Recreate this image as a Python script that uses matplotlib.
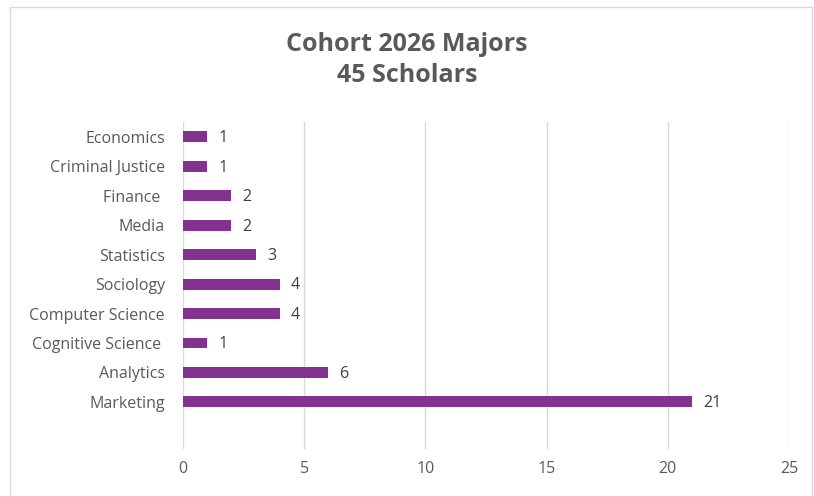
import matplotlib.pyplot as plt
from matplotlib.patches import Rectangle

majors = ['Marketing', 'Analytics', 'Cognitive Science ', 'Computer Science', 'Sociology',
          'Statistics', 'Media', 'Finance ', 'Criminal Justice', 'Economics']
counts = [21, 6, 1, 4, 4, 3, 2, 2, 1, 1]

bar_color = '#833290'
text_color = '#595959'

plt.rcParams['font.family'] = ['Open Sans', 'DejaVu Sans']

fig = plt.figure(figsize=(8.14, 4.96), dpi=100)
ax = fig.add_axes([0.2248, 0.0948, 0.7445, 0.659])

ypos = list(range(len(majors)))
ax.barh(ypos, counts, height=0.37, color=bar_color, zorder=3)
for y, v in zip(ypos, counts):
    ax.annotate(str(v), (v, y), xytext=(8, -1), textcoords='offset points',
                va='center', ha='left', fontsize=11.5, color='#404040')

ax.set_xlim(0, 25)
ax.set_ylim(-1.6, 9.5)
ax.set_xticks([0, 5, 10, 15, 20, 25])
ax.set_yticks(ypos)
ax.set_yticklabels(majors)
ax.grid(axis='x', color='#D9D9D9', linewidth=1, zorder=0)
for s in ax.spines.values():
    s.set_visible(False)
ax.tick_params(axis='both', length=0, labelsize=11.5, labelcolor=text_color)
ax.tick_params(axis='y', pad=13)
ax.tick_params(axis='x', pad=9)

fig.text(0.5, 0.879, 'Cohort 2026 Majors\n45 Scholars', ha='center', va='center',
         fontsize=18, fontweight='bold', color=text_color, linespacing=1.35)

fig.patches.append(Rectangle((0.012, -0.01), 0.985, 0.995, transform=fig.transFigure,
                             fill=False, edgecolor='#D9D9D9', linewidth=1))

fig.savefig('out.png', dpi=100)
